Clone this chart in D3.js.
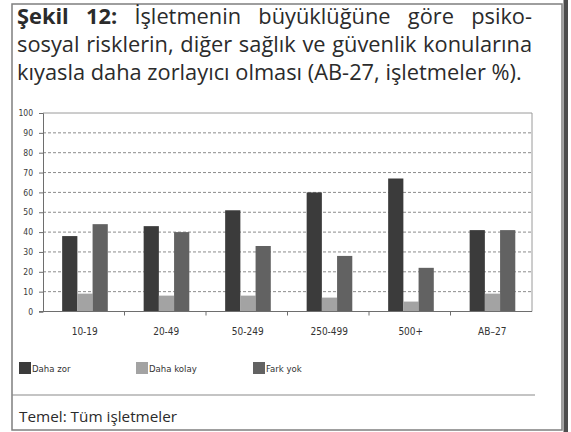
<!DOCTYPE html>
<html>
<head>
<meta charset="utf-8">
<script src="https://cdn.jsdelivr.net/npm/d3@7"></script>
<style>
    body { margin: 0; background: #ffffff; }
    svg { display: block; }
</style>
</head>
<body>
<div id="chart"></div>
<script>
// data
let categories = ["10-19", "20-49", "50-249", "250-499", "500+", "AB\u201327"]
let seriesNames = ["Daha zor", "Daha kolay", "Fark yok"]
let dahaZor = [38, 43, 51, 60, 67, 41]
let dahaKolay = [9, 8, 8, 7, 5, 9]
let farkYok = [44, 40, 33, 28, 22, 41]
let yTicks = [0, 10, 20, 30, 40, 50, 60, 70, 80, 90, 100]

let titleLines = [
    ["Şekil 12:", " İşletmenin büyüklüğüne göre psiko-"],
    ["", "sosyal risklerin, diğer sağlık ve güvenlik konularına"],
    ["", "kıyasla daha zorlayıcı olması (AB-27, işletmeler %)."]
]
let footnote = "Temel: Tüm işletmeler"

class groupedBarVis {

    constructor(parentElement) {
        this.parentElement = parentElement
        this.initVis()
    }

    initVis() {
        let vis = this

        vis.width = 571
        vis.height = 432
        vis.margin = {top: 113, right: 39, bottom: 120.5, left: 43}
        vis.innerW = vis.width - vis.margin.left - vis.margin.right
        vis.innerH = vis.height - vis.margin.top - vis.margin.bottom

        vis.svg = d3.select(`#${vis.parentElement}`)
            .append("svg")
            .attr("width", vis.width)
            .attr("height", vis.height)

        // outer frame + dark edge on the right
        vis.svg.append("rect")
            .attr("x", 12).attr("y", 4)
            .attr("width", 550).attr("height", 426)
            .attr("fill", "none")
            .attr("stroke", "#7f7f7f")
            .attr("stroke-width", 1.5)
        vis.svg.append("rect")
            .attr("x", 563.5).attr("y", 0)
            .attr("width", 4.5).attr("height", vis.height)
            .attr("fill", "#4d4d4d")

        vis.drawTitle()

        vis.g = vis.svg.append("g")
            .attr("transform", `translate(${vis.margin.left}, ${vis.margin.top})`)

        vis.x0 = d3.scaleBand().domain(categories).range([0, vis.innerW])
        vis.x1 = d3.scaleBand().domain(seriesNames)
            .range([vis.x0.bandwidth() * 0.235, vis.x0.bandwidth() * 0.795])
        vis.y = d3.scaleLinear().domain([0, 100]).range([vis.innerH, 0])
        vis.color = d3.scaleOrdinal().domain(seriesNames)
            .range(["#3b3b3b", "#a3a3a3", "#626262"])

        vis.labelFont = "'Liberation Sans Narrow', 'DejaVu Sans Condensed', sans-serif"

        // dashed grid
        vis.g.selectAll(".grid")
            .data(yTicks.filter(d => d > 0 && d < 100))
            .enter().append("line")
            .attr("class", "grid")
            .attr("x1", 0).attr("x2", vis.innerW)
            .attr("y1", d => vis.y(d)).attr("y2", d => vis.y(d))
            .attr("stroke", "#8c8c8c")
            .attr("stroke-width", 1)
            .attr("stroke-dasharray", "3,2")

        // plot border top/right
        vis.g.append("path")
            .attr("d", `M0,${vis.y(100)}H${vis.innerW}V${vis.innerH}`)
            .attr("fill", "none")
            .attr("stroke", "#9a9a9a")

        // bars
        let rows = categories.map((c, i) => ({
            cat: c,
            vals: [dahaZor[i], dahaKolay[i], farkYok[i]].map((v, j) => ({name: seriesNames[j], value: v}))
        }))
        vis.g.selectAll(".grp")
            .data(rows)
            .enter().append("g")
            .attr("class", "grp")
            .attr("transform", d => `translate(${vis.x0(d.cat)},0)`)
            .selectAll("rect")
            .data(d => d.vals)
            .enter().append("rect")
            .attr("x", d => vis.x1(d.name))
            .attr("width", vis.x1.bandwidth())
            .attr("y", d => vis.y(d.value))
            .attr("height", d => vis.innerH - vis.y(d.value))
            .attr("fill", d => vis.color(d.name))

        // y axis
        let yAxis = vis.g.append("g")
            .call(d3.axisLeft(vis.y).tickValues(yTicks).tickSize(4).tickPadding(6))
        yAxis.select(".domain").attr("stroke", "#6e6e6e")
        yAxis.selectAll(".tick line").attr("stroke", "#6e6e6e")
        yAxis.selectAll("text")
            .attr("font-family", vis.labelFont)
            .attr("font-size", 8.5)
            .attr("fill", "#3a3a3a")

        // x baseline with ticks at category boundaries
        vis.g.append("line")
            .attr("x1", -4).attr("x2", vis.innerW)
            .attr("y1", vis.innerH).attr("y2", vis.innerH)
            .attr("stroke", "#6e6e6e")
        vis.g.selectAll(".xtick")
            .data(categories.slice(1))
            .enter().append("line")
            .attr("class", "xtick")
            .attr("x1", d => vis.x0(d)).attr("x2", d => vis.x0(d))
            .attr("y1", vis.innerH).attr("y2", vis.innerH + 4)
            .attr("stroke", "#6e6e6e")
        vis.g.selectAll(".xlabel")
            .data(categories)
            .enter().append("text")
            .attr("class", "xlabel")
            .attr("x", d => vis.x0(d) + vis.x0.bandwidth() / 2 + 1)
            .attr("y", vis.innerH + 23)
            .attr("text-anchor", "middle")
            .attr("font-family", vis.labelFont)
            .attr("font-size", 10)
            .attr("fill", "#333")
            .text(d => d)

        // legend
        let legend = vis.svg.selectAll(".legend")
            .data(seriesNames)
            .enter().append("g")
            .attr("class", "legend")
            .attr("transform", (d, i) => `translate(${19 + i * 117}, 362)`)
        legend.append("rect")
            .attr("width", 12).attr("height", 12)
            .attr("fill", d => vis.color(d))
        legend.append("text")
            .attr("x", 13).attr("y", 10)
            .attr("font-family", vis.labelFont)
            .attr("font-size", 9.5)
            .attr("fill", "#333")
            .text(d => d)

        // bottom note
        vis.svg.append("line")
            .attr("x1", 12).attr("x2", 535)
            .attr("y1", 395).attr("y2", 395)
            .attr("stroke", "#8a8a8a")
            .attr("stroke-width", 1.2)
        vis.svg.append("text")
            .attr("x", 19).attr("y", 422)
            .attr("font-family", "'Open Sans', sans-serif")
            .attr("font-size", 15.3)
            .attr("fill", "#2b2b2b")
            .text(footnote)
    }

    drawTitle() {
        let vis = this
        let left = 17, right = 532, lastRight = 522

        let tg = vis.svg.append("g")
        let texts = titleLines.map((parts, i) => {
            let t = tg.append("text")
                .attr("x", 0)
                .attr("y", 24 + i * 28)
                .attr("font-family", "'Open Sans', sans-serif")
                .attr("font-size", 21)
                .attr("fill", "#2b2b2b")
            if (parts[0]) t.append("tspan").attr("font-weight", "bold").text(parts[0])
            t.append("tspan").text(parts[1])
            return t
        })

        // squeeze horizontally so the last line has its printed width
        let sx = (lastRight - left) / texts[2].node().getComputedTextLength()
        tg.attr("transform", `translate(${left},0) scale(${sx},1)`)

        // justify the first two lines with word spacing
        texts.slice(0, 2).forEach((t, i) => {
            let natural = t.node().getComputedTextLength()
            let spaces = (titleLines[i][0] + titleLines[i][1]).split(" ").length - 1
            let extra = ((right - left) / sx - natural) / spaces
            t.attr("word-spacing", extra)
        })
    }
}

new groupedBarVis("chart")
</script>
</body>
</html>
